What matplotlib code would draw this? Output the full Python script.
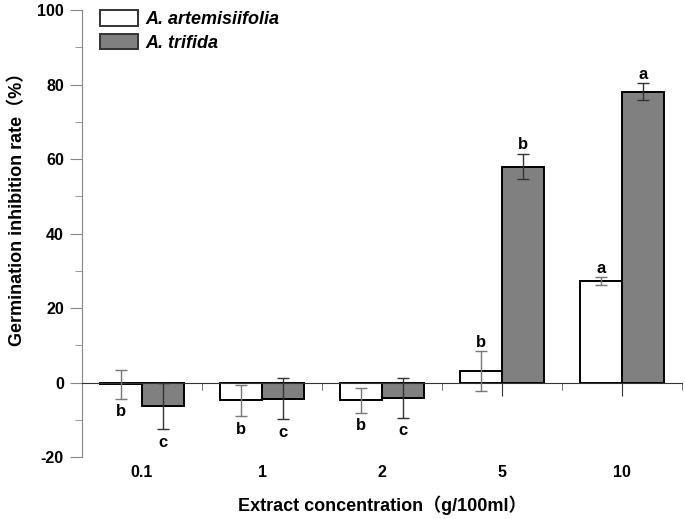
import matplotlib.pyplot as plt
import matplotlib.transforms as mtransforms
import numpy as np

plt.rcParams['font.family'] = ['Liberation Sans', 'Noto Sans CJK SC']
plt.rcParams['font.weight'] = 'bold'

# concentraciones (g/100ml)
concentrations = ['0.1', '1', '2', '5', '10']

# A. artemisiifolia
art_mean = [-0.5, -4.8, -4.8, 3.0, 27.2]
art_err = [3.9, 4.2, 3.3, 5.4, 1.1]
art_letters = ['b', 'b', 'b', 'b', 'a']

# A. trifida
tri_mean = [-6.4, -4.4, -4.2, 58.0, 78.1]
tri_err = [6.2, 5.5, 5.3, 3.4, 2.3]
tri_letters = ['c', 'c', 'c', 'b', 'a']

x = np.arange(len(concentrations))
w = 0.35

fig = plt.figure(figsize=(6.85, 5.19), dpi=100)
ax = fig.add_axes([0.1197, 0.1195, 0.876, 0.861])

ax.bar(x, art_mean, width=-w, align='edge', color='white', edgecolor='black',
       linewidth=1.4, label='A. artemisiifolia', zorder=2)
ax.bar(x, tri_mean, width=w, align='edge', color='#808080', edgecolor='black',
       linewidth=1.4, label='A. trifida', zorder=2)
ax.errorbar(x - w / 2, art_mean, yerr=art_err, fmt='none', ecolor='#777777',
            elinewidth=1, capsize=4, capthick=1, zorder=3)
ax.errorbar(x + w / 2, tri_mean, yerr=tri_err, fmt='none', ecolor='#333333',
            elinewidth=1, capsize=4, capthick=1, zorder=3)

# letras de significancia
for xs, means, errs, letters in [(x - w / 2, art_mean, art_err, art_letters),
                                 (x + w / 2, tri_mean, tri_err, tri_letters)]:
    for xi, m, e, l in zip(xs, means, errs, letters):
        if m >= 0:
            ax.annotate(l, (xi, m + e), xytext=(0, 1), textcoords='offset points',
                        ha='center', va='bottom', fontsize=12, fontweight='bold')
        else:
            ax.annotate(l, (xi, m - e), xytext=(0, -4), textcoords='offset points',
                        ha='center', va='top', fontsize=12, fontweight='bold')

ax.set_xlim(-0.5, 4.5)
ax.set_ylim(-20, 100)
ax.set_yticks(range(-20, 101, 20))
ax.set_yticklabels([str(v) for v in range(-20, 101, 20)])
ax.set_yticks(range(-10, 100, 20), minor=True)
ax.tick_params(axis='y', which='major', length=9, color='#888888', labelsize=11.5, pad=4)
ax.tick_params(axis='y', which='minor', length=5, color='#888888')

ax.spines['top'].set_visible(False)
ax.spines['right'].set_visible(False)
ax.spines['left'].set_color('#888888')
ax.spines['bottom'].set_position(('data', 0))
ax.spines['bottom'].set_color('#333333')
ax.set_xticks(x)
ax.set_xticks(np.arange(-0.5, 4.6, 1), minor=True)
ax.tick_params(axis='x', which='major', length=9, color='#333333', labelbottom=False)
ax.tick_params(axis='x', which='minor', length=5, color='#555555')

trans = mtransforms.blended_transform_factory(ax.transData, ax.transAxes)
for xi, lab in zip(x, concentrations):
    ax.text(xi, -0.034, lab, transform=trans, ha='center', va='center', fontsize=11.5)

ax.set_xlabel('Extract concentration（g/100ml）', fontsize=13, fontweight='bold')
ax.xaxis.set_label_coords(0.5, -0.086)
ax.set_ylabel('Germination inhibition rate（%）', fontsize=13, fontweight='bold')
ax.yaxis.set_label_coords(-0.093, 0.565)

leg = ax.legend(loc='upper left', bbox_to_anchor=(0.03, 1.0), frameon=False,
                borderpad=0, borderaxespad=0,
                handlelength=2.1, handleheight=0.95, labelspacing=0.3,
                handletextpad=0.4, prop={'style': 'italic', 'weight': 'bold', 'size': 13})
for h in leg.legend_handles:
    h.set_edgecolor('#333333')

fig.savefig('out.png', dpi=100)
